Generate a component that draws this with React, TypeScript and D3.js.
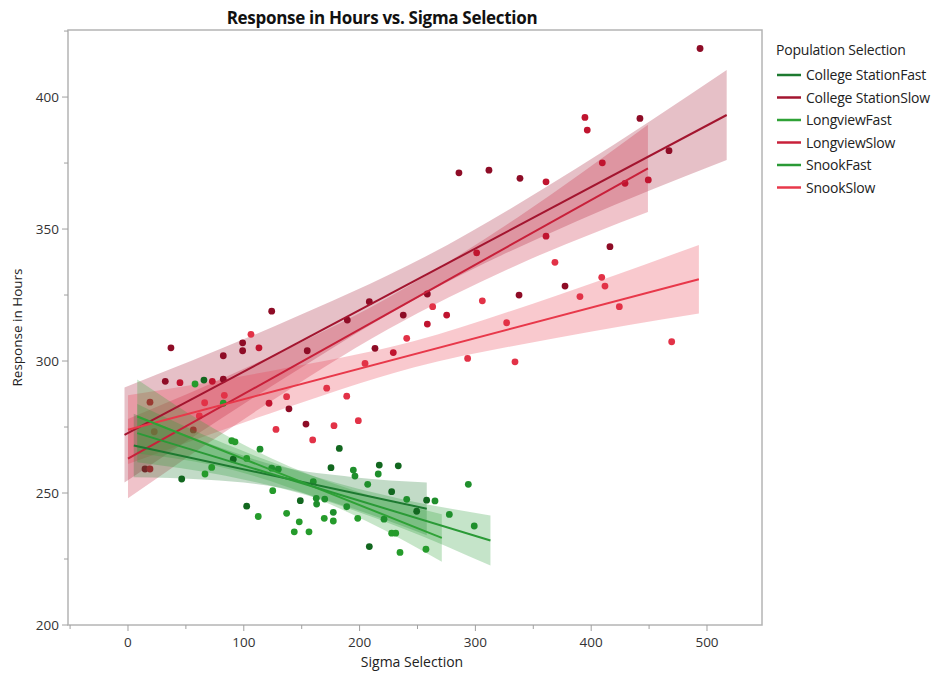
import React, { useEffect, useRef } from 'react';
import * as d3 from 'd3';

type Pt = [number, number];

// series names in legend order
const seriesNames = [
  'College StationFast',
  'College StationSlow',
  'LongviewFast',
  'LongviewSlow',
  'SnookFast',
  'SnookSlow',
];
const lineColors = ['#1d7a30', '#a3152f', '#2fa236', '#c8203a', '#2a9a36', '#e8384a'];
const pointColors = ['#12671f', '#8e0c26', '#259b2b', '#c0142f', '#1f8f2c', '#e23247'];

// scatter values (Sigma Selection, Response in Hours)
const csFastPts: Pt[] = [
  [46.4, 255.3], [90.9, 262.8], [102.5, 245], [148.8, 247.1], [175.3, 259.6], [182.5, 266.9],
  [208.4, 229.7], [217, 260.6], [227.7, 250.5], [233.4, 260.3], [249.3, 243.1], [257.9, 247.3],
  [65.6, 292.8],
];
const lvFastPts: Pt[] = [
  [57.9, 291.3], [82.3, 284], [66.5, 257.2], [72.3, 259.7], [89.6, 269.8], [92.4, 269.4],
  [102.5, 263.1], [125, 250.9], [112.5, 241.1], [137, 242.3], [147.9, 239.1], [156.3, 235.3],
  [169.5, 240.4], [177.3, 239.4], [198.4, 240.4], [227.7, 234.8], [231.2, 234.8], [234.9, 227.5],
  [257.3, 228.7], [143.6, 235.3],
];
const snFastPts: Pt[] = [
  [114, 266.6], [124.1, 259.4], [129.8, 259], [160, 254.3], [162.6, 248], [162.9, 245.8],
  [169.9, 247.7], [177.3, 242.7], [188.9, 244.8], [194.6, 258.7], [196, 256.4], [207, 253.3],
  [216.1, 257.2], [221.1, 240.1], [240.7, 247.6], [265.1, 247], [277.5, 241.9], [293.9, 253.3],
  [299, 237.5],
];
const csSlowPts: Pt[] = [
  [494, 418.4], [442.1, 391.9], [467.2, 379.7], [338.5, 369.2], [311.7, 372.3], [285.8, 371.3],
  [416.2, 343.3], [377.4, 328.4], [337.7, 325], [258.5, 325.4], [237.7, 317.4], [213.3, 304.8],
  [208.4, 322.5], [189.4, 315.5], [124.1, 318.9], [37.1, 305], [99, 306.9], [99, 303.9],
  [82.3, 302], [154.8, 303.9], [32.2, 292.3], [82.3, 293.1], [139, 281.9], [153.7, 276.1],
  [14.7, 259.1],
];
const lvSlowPts: Pt[] = [
  [394.6, 392.3], [396.6, 387.5], [449.3, 368.6], [429.2, 367.3], [409.6, 375.1], [361, 367.9],
  [301.1, 341], [361, 347.3], [258.5, 314], [275.2, 317.4], [229.1, 303.2], [113.1, 305],
  [44.9, 291.8], [72.8, 292.3], [19, 284.4], [121.8, 284], [56.4, 273.9], [19, 259.1],
];
const snSlowPts: Pt[] = [
  [368.7, 337.4], [390.3, 324.4], [409.1, 331.7], [411.9, 328.4], [424.3, 320.6], [306, 322.8],
  [327, 314.5], [469.5, 307.3], [293.3, 301], [334.2, 299.7], [263.1, 320.6], [240.7, 308.6],
  [204.7, 299.1], [106.2, 310.1], [66.2, 284.2], [83.2, 287], [137, 286.5], [127.8, 274.1],
  [61.6, 279.2], [22.7, 273.2], [171.6, 289.7], [188.9, 286.7], [177.9, 275.5], [198.9, 277.4],
  [159.5, 270.1],
];
const seriesPts = [csFastPts, csSlowPts, lvFastPts, lvSlowPts, snFastPts, snSlowPts];

// fitted lines (legend order)
const fitX0 = [5, -3, 8, 0, 8, 0];
const fitX1 = [258, 517, 271, 449, 313, 493];
const fitY0 = [268, 272, 279, 263, 272.7, 274];
const fitY1 = [244, 393.2, 233, 373, 232, 331];
// confidence band half widths at 5 evenly spaced points along each fit
const bandHalf = [
  [12, 7, 4, 6, 10],
  [18, 11, 7, 10, 17],
  [14, 7, 4, 5, 9],
  [15, 9, 6, 9, 16.5],
  [11, 6, 4, 5.5, 9.5],
  [13, 8, 5, 8, 13],
];

const yTicks = [200, 250, 300, 350, 400];
const xTicks = [0, 100, 200, 300, 400, 500];

const W = 945;
const H = 677;

const App = () => {
  const ref = useRef<SVGSVGElement>(null);

  useEffect(() => {
    const svg = d3.select(ref.current);
    svg.selectAll('*').remove();

    const font = "'Open Sans', 'Noto Sans', sans-serif";
    const left = 68, right = 762, top = 30, bottom = 625;

    const x = d3.scaleLinear().domain([-51.8, 547.5]).range([left, right]);
    const y = d3.scaleLinear().domain([200, 425.4]).range([bottom, top]);

    svg.append('rect').attr('width', W).attr('height', H).attr('fill', '#fff');

    // title
    svg.append('text')
      .attr('x', 382).attr('y', 24)
      .attr('text-anchor', 'middle')
      .style('font-family', font).style('font-size', '17px').style('font-weight', 'bold')
      .style('letter-spacing', '-0.3px')
      .attr('fill', '#111')
      .text('Response in Hours vs. Sigma Selection');

    // frame
    svg.append('rect')
      .attr('x', left).attr('y', top)
      .attr('width', right - left).attr('height', bottom - top)
      .attr('fill', 'none').attr('stroke', '#b4b4b4').attr('stroke-width', 1.5);

    const plot = svg.append('g');
    plot.append('clipPath').attr('id', 'clip')
      .append('rect').attr('x', left).attr('y', top).attr('width', right - left).attr('height', bottom - top);
    const inner = plot.append('g').attr('clip-path', 'url(#clip)');

    const bandFor = (i: number) => {
      const n = bandHalf[i].length;
      return bandHalf[i].map((w, k) => {
        const t = k / (n - 1);
        const xv = fitX0[i] + t * (fitX1[i] - fitX0[i]);
        const yv = fitY0[i] + t * (fitY1[i] - fitY0[i]);
        return { x: xv, lo: yv - w, hi: yv + w };
      });
    };
    const area = d3.area<{ x: number; lo: number; hi: number }>()
      .x(d => x(d.x)).y0(d => y(d.lo)).y1(d => y(d.hi))
      .curve(d3.curveMonotoneX);

    const drawBands = (idx: number[]) => {
      idx.forEach(i => {
        inner.append('path')
          .datum(bandFor(i))
          .attr('d', area)
          .attr('fill', lineColors[i])
          .attr('fill-opacity', 0.27);
      });
    };
    const drawPoints = (idx: number[]) => {
      idx.forEach(i => {
        inner.append('g').selectAll('circle')
          .data(seriesPts[i])
          .enter()
          .append('circle')
          .attr('cx', d => x(d[0]))
          .attr('cy', d => y(d[1]))
          .attr('r', 3.4)
          .attr('fill', pointColors[i]);
      });
    };

    const slow = [1, 3, 5];
    const fast = [0, 2, 4];
    drawBands(slow);
    drawPoints(slow);
    drawBands(fast);
    drawPoints(fast);

    [...slow, ...fast].forEach(i => {
      inner.append('line')
        .attr('x1', x(fitX0[i])).attr('y1', y(fitY0[i]))
        .attr('x2', x(fitX1[i])).attr('y2', y(fitY1[i]))
        .attr('stroke', lineColors[i]).attr('stroke-width', 2);
    });

    // y axis
    const yAxis = svg.append('g');
    d3.range(200, 426, 25).forEach(v => {
      const major = v % 50 === 0;
      yAxis.append('line')
        .attr('x1', left - (major ? 6 : 4)).attr('x2', left)
        .attr('y1', y(v)).attr('y2', y(v))
        .attr('stroke', '#a0a0a0');
    });
    yTicks.forEach(v => {
      yAxis.append('text')
        .attr('x', left - 9).attr('y', y(v) + 5)
        .attr('text-anchor', 'end')
        .style('font-family', font).style('font-size', '13.5px')
        .attr('fill', '#333')
        .text(v);
    });

    // x axis
    const xAxis = svg.append('g');
    d3.range(-50, 548, 50).forEach(v => {
      const major = v % 100 === 0;
      xAxis.append('line')
        .attr('x1', x(v)).attr('x2', x(v))
        .attr('y1', bottom).attr('y2', bottom + (major ? 6 : 4))
        .attr('stroke', '#a0a0a0');
    });
    xTicks.forEach(v => {
      xAxis.append('text')
        .attr('x', x(v)).attr('y', bottom + 22)
        .attr('text-anchor', 'middle')
        .style('font-family', font).style('font-size', '13.5px')
        .attr('fill', '#333')
        .text(v);
    });

    // axis titles
    svg.append('text')
      .attr('x', 412).attr('y', 667)
      .attr('text-anchor', 'middle')
      .style('font-family', font).style('font-size', '14px')
      .attr('fill', '#222')
      .text('Sigma Selection');
    svg.append('text')
      .attr('transform', `translate(22,${(top + bottom) / 2}) rotate(-90)`)
      .attr('text-anchor', 'middle')
      .style('font-family', font).style('font-size', '13.5px')
      .attr('fill', '#222')
      .text('Response in Hours');

    // legend
    const legend = svg.append('g').attr('transform', 'translate(776, 55)');
    legend.append('text')
      .attr('x', 0).attr('y', 0)
      .style('font-family', font).style('font-size', '14px')
      .style('letter-spacing', '-0.2px')
      .attr('fill', '#222')
      .text('Population Selection');
    seriesNames.forEach((name, i) => {
      const yy = 20 + i * 22.5;
      legend.append('line')
        .attr('x1', 1).attr('x2', 25)
        .attr('y1', yy).attr('y2', yy)
        .attr('stroke', lineColors[i]).attr('stroke-width', 2.5);
      legend.append('text')
        .attr('x', 30).attr('y', yy + 5)
        .style('font-family', font).style('font-size', '14px')
        .style('letter-spacing', '-0.2px')
        .attr('fill', '#222')
        .text(name);
    });
  }, []);

  return (
    <svg
      ref={ref}
      width={W}
      height={H}
      style={{ position: 'absolute', left: 0, top: 0, display: 'block' }}
    />
  );
};

export default App;
